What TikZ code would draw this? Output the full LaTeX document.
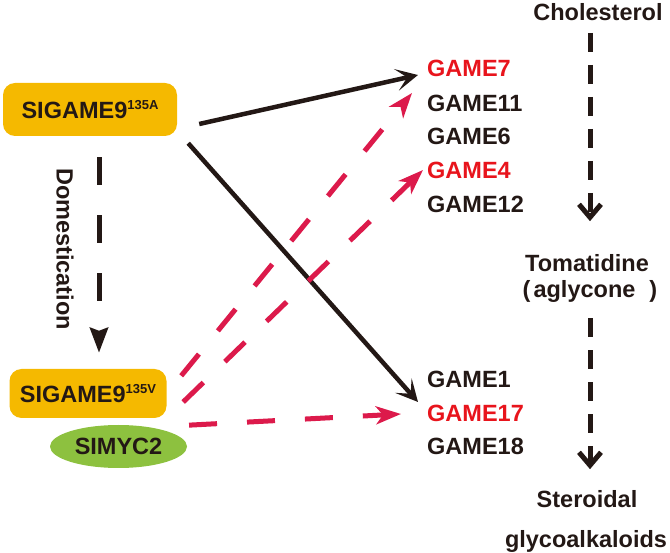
\documentclass[tikz,border=0pt]{standalone}
\usepackage{fontspec}
\setmainfont{Liberation Sans}
\usetikzlibrary{arrows.meta,shapes.geometric}
\definecolor{boxorange}{HTML}{F5B900}
\definecolor{mycgreen}{HTML}{8DC13F}
\definecolor{ink}{HTML}{231815}
\definecolor{redtxt}{HTML}{E8141C}
\definecolor{crimson}{HTML}{DC1A4B}
\tikzset{
  lbl/.style={inner sep=0pt, text=ink, font=\bfseries\fontsize{23.5}{28}\selectfont},
  gene/.style={lbl, anchor=west},
  redgene/.style={gene, text=redtxt},
  genebox/.style={lbl, fill=boxorange, rounded corners=12pt, draw=none},
  blkarrow/.style={draw=ink, line width=4.5pt, -{Stealth[length=22pt,width=22pt,inset=11pt]}},
  redarrow/.style={draw=crimson, line width=5pt, dash pattern=on 28pt off 30pt, -{Stealth[length=25pt,width=18pt,inset=7pt]}},
  domarrow/.style={draw=ink, line width=5pt, dash pattern=on 28pt off 30pt, -{Stealth[length=25pt,width=18pt,inset=3pt]}},
  patharrow/.style={draw=ink, line width=5pt, dash pattern=on 19pt off 13pt, -{Straight Barb[length=13pt,width=22pt,line width=5pt]}},
}
\begin{document}
\begin{tikzpicture}[x=1pt,y=-1pt]
\useasboundingbox (0,0) rectangle (670,553);
% left boxes
\node[genebox, minimum width=174pt, minimum height=53pt] (A) at (90,109.5)
  {SIGAME9\raisebox{8.5pt}{\fontsize{13}{13}\selectfont 135A}};
\node[genebox, minimum width=157pt, minimum height=49pt] (V) at (88,393.5)
  {SIGAME9\raisebox{8.5pt}{\fontsize{13}{13}\selectfont 135V}};
\node[lbl, ellipse, fill=mycgreen, minimum width=137pt, minimum height=43pt] (M) at (118.5,446.5) {SIMYC2};
\node[lbl, rotate=-90] (dom) at (65,249) {Domestication};
% gene list
\node[redgene] (g7) at (427,68) {GAME7};
\node[gene] (g11) at (427,103) {GAME11};
\node[gene] (g6) at (427,136) {GAME6};
\node[redgene] (g4) at (427,170) {GAME4};
\node[gene] (g12) at (427,204) {GAME12};
\node[gene] (g1) at (427,379.5) {GAME1};
\node[redgene] (g17) at (427,413) {GAME17};
\node[gene] (g18) at (427,446) {GAME18};
% pathway
\node[lbl] (chol) at (598,12) {Cholesterol};
\node[lbl] (tom) at (587,263) {Tomatidine};
\node[lbl] (agl) at (590,291) {(\hspace{3pt}aglycone\hspace{14pt})};
\node[lbl] (ster) at (587,499) {Steroidal};
\node[lbl] (glyco) at (586,541) {glycoalkaloids};
% pathway arrows
\draw[patharrow] ([shift={(-8,12)}]chol.south) -- ([shift={(3,-33)}]tom.north);
\draw[patharrow] ([shift={(0,16)}]agl.south) -- ([shift={(3,-21)}]ster.north);
% domestication arrow
\draw[domarrow] ([shift={(9,21)}]A.south) -- ([shift={(11,-16)}]V.north);
% black arrows
\draw[blkarrow] ([shift={(22,14.5)}]A.east) -- ([shift={(-9,7)}]g7.west);
\draw[blkarrow] ([shift={(11,7)}]A.south east) -- ([shift={(-9,-11)}]g17.west);
% red dashed arrows
\draw[redarrow] ([shift={(14.5,7)}]V.north east) -- ([shift={(-15,-10)}]g11.west);
\draw[redarrow] ([shift={(16.5,8.5)}]V.east) -- ([shift={(-4,0)}]g4.west);
\draw[redarrow] ([shift={(22,-6)}]M.north east) -- ([shift={(-26,1)}]g17.west);
\end{tikzpicture}
\end{document}
